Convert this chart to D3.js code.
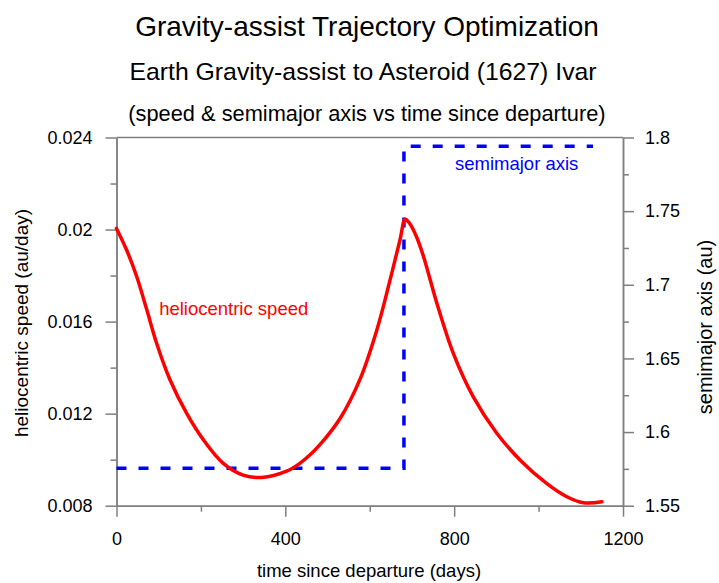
<!DOCTYPE html>
<html>
<head>
<meta charset="utf-8">
<script src="https://cdn.jsdelivr.net/npm/d3@7"></script>
<style>
  html, body { margin: 0; padding: 0; background: #fff; }
  svg { display: block; font-family: "Liberation Sans", Arial, sans-serif; }
</style>
</head>
<body>
<svg id="chart" width="719" height="583"></svg>
<script>
// ---- data ----
const speedTime = [0, 24, 48, 72, 95, 127, 166, 206, 253, 300, 344, 403, 435, 458, 482, 530, 577, 617, 648, 672, 684, 695, 710, 727, 759, 798, 845, 901, 956, 1019, 1067, 1106, 1150];
const speedValue = [0.02005, 0.01911, 0.01795, 0.01650, 0.01506, 0.01346, 0.01202, 0.01086, 0.00984, 0.00933, 0.00923, 0.00950, 0.00985, 0.01020, 0.01065, 0.01180, 0.01350, 0.01565, 0.01780, 0.01958, 0.02045, 0.02025, 0.01972, 0.01885, 0.01680, 0.01462, 0.01274, 0.01115, 0.00999, 0.00897, 0.00839, 0.00813, 0.00817];
const smaTime = [0, 681, 681, 1129];
const smaValue = [1.5755, 1.5755, 1.794, 1.794];

const xTicks = [0, 400, 800, 1200];
const xMinorTicks = [200, 600, 1000];
const yLeftTicks = [0.008, 0.012, 0.016, 0.02, 0.024];
const yLeftMinorTicks = [0.010, 0.014, 0.018, 0.022];
const yRightTicks = [1.55, 1.6, 1.65, 1.7, 1.75, 1.8];
const yRightMinorTicks = [1.575, 1.625, 1.675, 1.725, 1.775];

const titleText = "Gravity-assist Trajectory Optimization";
const subtitleText = "Earth Gravity-assist to Asteroid (1627) Ivar";
const subsubText = "(speed & semimajor axis vs time since departure)";
const xLabel = "time since departure (days)";
const yLeftLabel = "heliocentric speed (au/day)";
const yRightLabel = "semimajor axis (au)";
const speedName = "heliocentric speed";
const smaName = "semimajor axis";

// ---- layout ----
const L = 116.5, R = 623, T = 137.5, B = 505.7;
const svg = d3.select("#chart");
const axisColor = "#7f7f7f";

const x = d3.scaleLinear().domain([0, 1200]).range([L, R]);
const yL = d3.scaleLinear().domain([0.008, 0.024]).range([B, T]);
const yR = d3.scaleLinear().domain([1.55, 1.8]).range([B, T]);
const fmt = d => String(+d.toFixed(4));

function styleAxis(g) {
  g.selectAll("path").attr("stroke", axisColor).attr("stroke-width", 1.5);
  g.selectAll("line").attr("stroke", axisColor).attr("stroke-width", 1.5);
  g.selectAll("text").attr("fill", "#000").style("font-size", "18px")
    .style("font-family", "'Liberation Sans', Arial, sans-serif");
}

// top border
svg.append("line").attr("x1", L).attr("x2", R).attr("y1", T).attr("y2", T)
  .attr("stroke", axisColor).attr("stroke-width", 1.5);

// minor ticks
svg.append("g").attr("transform", `translate(0,${B})`)
  .call(d3.axisBottom(x).tickValues(xMinorTicks).tickSize(6).tickSizeOuter(0).tickFormat(""))
  .call(styleAxis);
svg.append("g").attr("transform", `translate(${L},0)`)
  .call(d3.axisLeft(yL).tickValues(yLeftMinorTicks).tickSize(6).tickSizeOuter(0).tickFormat(""))
  .call(styleAxis);
svg.append("g").attr("transform", `translate(${R},0)`)
  .call(d3.axisRight(yR).tickValues(yRightMinorTicks).tickSize(6).tickSizeOuter(0).tickFormat(""))
  .call(styleAxis);

// major axes
svg.append("g").attr("transform", `translate(0,${B})`)
  .call(d3.axisBottom(x).tickValues(xTicks).tickSize(11).tickSizeOuter(0).tickPadding(16).tickFormat(fmt))
  .call(styleAxis);
svg.append("g").attr("transform", `translate(${L},0)`)
  .call(d3.axisLeft(yL).tickValues(yLeftTicks).tickSize(11).tickSizeOuter(0).tickPadding(13).tickFormat(fmt))
  .call(styleAxis);
svg.append("g").attr("transform", `translate(${R},0)`)
  .call(d3.axisRight(yR).tickValues(yRightTicks).tickSize(11).tickSizeOuter(0).tickPadding(11).tickFormat(fmt))
  .call(styleAxis);

// series
const smaLine = d3.line().x((d, i) => x(smaTime[i])).y(d => yR(d));
svg.append("path").datum(smaValue).attr("d", smaLine)
  .attr("fill", "none").attr("stroke", "#0000ff").attr("stroke-width", 3.5)
  .attr("stroke-dasharray", "10,12");

const speedLine = d3.line().x((d, i) => x(speedTime[i])).y(d => yL(d)).curve(d3.curveCatmullRom.alpha(0.5));
svg.append("path").datum(speedValue).attr("d", speedLine)
  .attr("fill", "none").attr("stroke", "#ff0000").attr("stroke-width", 3.5)
  .attr("stroke-linejoin", "round").attr("stroke-linecap", "round");

// annotations
svg.append("text").attr("x", x(101)).attr("y", yL(0.0163)).attr("fill", "#ff0000")
  .style("font-size", "18.5px").text(speedName);
svg.append("text").attr("x", x(802)).attr("y", yR(1.778)).attr("fill", "#0000ff")
  .style("font-size", "18.5px").text(smaName);

// titles
svg.append("text").attr("x", 367).attr("y", 35.5).attr("text-anchor", "middle")
  .style("font-size", "28px").text(titleText);
svg.append("text").attr("x", 363).attr("y", 80).attr("text-anchor", "middle")
  .style("font-size", "24.8px").text(subtitleText);
svg.append("text").attr("x", 367).attr("y", 121).attr("text-anchor", "middle")
  .style("font-size", "21.8px").text(subsubText);

// axis labels
svg.append("text").attr("x", 369).attr("y", 577).attr("text-anchor", "middle")
  .style("font-size", "18.5px").text(xLabel);
svg.append("text").attr("transform", "translate(28,323) rotate(-90)").attr("text-anchor", "middle")
  .style("font-size", "19px").text(yLeftLabel);
svg.append("text").attr("transform", "translate(712,327) rotate(-90)").attr("text-anchor", "middle")
  .style("font-size", "20px").text(yRightLabel);
</script>
</body>
</html>
